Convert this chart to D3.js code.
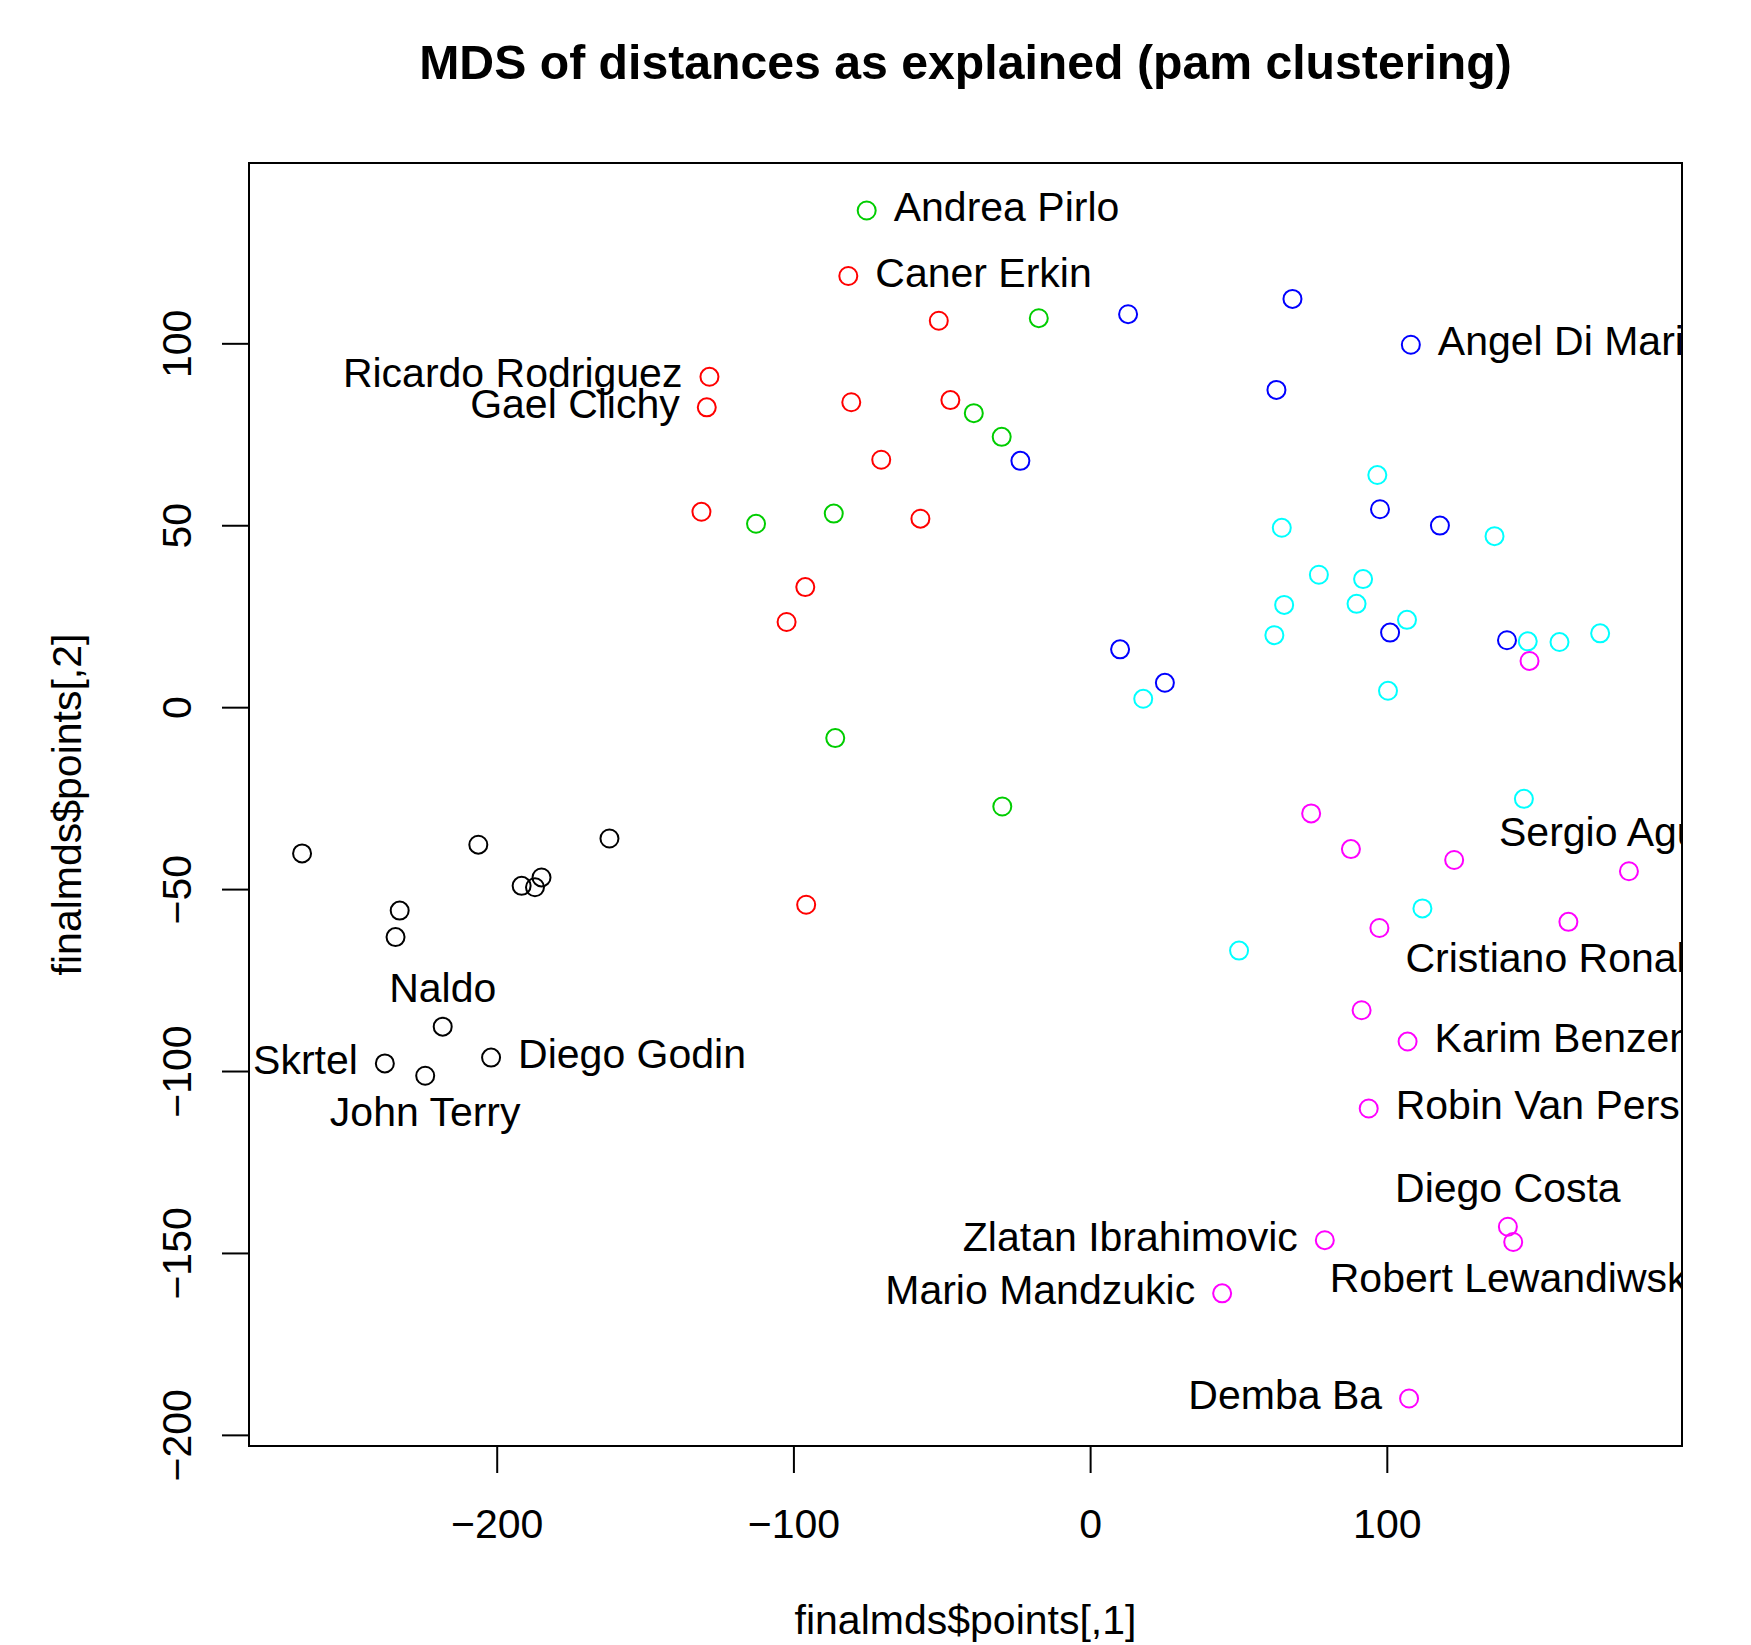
<!DOCTYPE html>
<html>
<head>
<meta charset="utf-8">
<script src="https://cdn.jsdelivr.net/npm/d3@7/dist/d3.min.js"></script>
<style>
  body { margin: 0; background: #fff; }
  text { font-family: "Liberation Sans", Arial, Helvetica, sans-serif; fill: #000; }
  .tick line, .domain { stroke: #000; stroke-width: 2; }
</style>
</head>
<body>
<div id="mdsPlot"></div>
<script>
// finalmds$points, one x/y pair of arrays per pam cluster
// (labelled players first in each cluster)
const c1x = [-218.2, -237.7, -224.1, -201.9, -265.6, -206.2, -162.0, -184.9, -191.6, -187.1, -232.7, -234.1];
const c1y = [-87.8, -97.9, -101.3, -96.3, -40.2, -37.8, -36.1, -46.8, -49.1, -49.5, -55.9, -63.2];

const c2x = [-81.5, -128.3, -129.2, -51.0, -80.5, -47.1, -70.4, -131.0, -57.2, -96.0, -102.3, -95.7];
const c2y = [118.5, 90.8, 82.4, 106.2, 83.8, 84.4, 68.0, 53.7, 51.8, 33.0, 23.4, -54.3];

const c3x = [-75.3, -17.3, -39.2, -29.8, -112.6, -86.4, -85.9, -29.6];
const c3y = [136.5, 106.9, 80.8, 74.3, 50.4, 53.2, -8.5, -27.3];

const c4x = [108.1, 12.8, 68.2, 62.8, -23.5, 97.7, 117.9, 101.1, 140.5, 10.1, 25.2];
const c4y = [99.6, 108.0, 112.2, 87.2, 67.7, 54.4, 49.9, 20.5, 18.4, 15.9, 6.7];

const c5x = [17.9, 96.8, 136.3, 64.6, 77.1, 92.0, 65.4, 89.8, 106.8, 62.1, 147.5, 158.2, 171.9, 100.4, 146.2, 112.0, 50.2];
const c5y = [2.3, 63.8, 47.0, 49.3, 36.4, 35.2, 28.1, 28.4, 24.0, 19.8, 18.1, 17.9, 20.3, 4.5, -25.2, -55.3, -66.9];

const c6x = [181.6, 161.2, 107.0, 93.9, 140.8, 142.6, 79.1, 44.5, 107.5, 148.1, 74.5, 87.9, 122.7, 97.5, 91.5];
const c6y = [-45.1, -59.0, -91.9, -110.3, -142.8, -147.0, -146.5, -161.1, -190.0, 12.7, -29.2, -39.0, -42.0, -60.7, -83.3];

// labelled players: name, cluster (1-6), index in that cluster, R text() pos (1 below, 2 left, 3 above, 4 right)
const labelNames = ["Naldo", "Skrtel", "John Terry", "Diego Godin",
  "Caner Erkin", "Ricardo Rodriguez", "Gael Clichy", "Andrea Pirlo", "Angel Di Maria",
  "Sergio Aguero", "Cristiano Ronaldo", "Karim Benzema", "Robin Van Persie", "Diego Costa",
  "Robert Lewandiwski", "Zlatan Ibrahimovic", "Mario Mandzukic", "Demba Ba"];
const labelCluster = [1, 1, 1, 1, 2, 2, 2, 3, 4, 6, 6, 6, 6, 6, 6, 6, 6, 6];
const labelIndex = [0, 1, 2, 3, 0, 1, 2, 0, 0, 0, 1, 2, 3, 4, 5, 6, 7, 8];
const labelSide = [3, 2, 1, 4, 4, 2, 2, 4, 4, 3, 1, 4, 4, 3, 1, 2, 2, 2];

const xTicks = [-200, -100, 0, 100];
const yTicks = [-200, -150, -100, -50, 0, 50, 100];

// R palette 1:6
const clusterColors = ["#000000", "#FF0000", "#00CD00", "#0000FF", "#00FFFF", "#FF00FF"];

// set the dimensions and margins of the graph
const W = 1751, H = 1645;
const margin = {top: 163, right: 69, bottom: 199, left: 249};
const width = W - margin.left - margin.right;
const height = H - margin.top - margin.bottom;
const fs = 41;

const svg = d3.select("#mdsPlot")
  .append("svg")
    .attr("width", W)
    .attr("height", H)
  .append("g")
    .attr("transform", `translate(${margin.left}, ${margin.top})`);

// gather points
const clusters = [[c1x, c1y], [c2x, c2y], [c3x, c3y], [c4x, c4y], [c5x, c5y], [c6x, c6y]];
const points = clusters.flatMap((c, k) => c[0].map((x, i) => ({x: x, y: c[1][i], cl: k})));

// R pads the data range by 4%
const pad = ext => { const d = (ext[1] - ext[0]) * 0.04; return [ext[0] - d, ext[1] + d]; };

const xScale = d3.scaleLinear()
  .domain(pad(d3.extent(points, d => d.x)))
  .range([0, width]);
const yScale = d3.scaleLinear()
  .domain(pad(d3.extent(points, d => d.y)))
  .range([height, 0]);

// X axis
const xAxis = svg.append("g")
  .attr("transform", `translate(0,${height})`)
  .call(d3.axisBottom(xScale).tickValues(xTicks).tickSize(27).tickPadding(36)
    .tickFormat(d => d < 0 ? "\u2212" + Math.abs(d) : d));
xAxis.select(".domain").remove();
xAxis.selectAll("text").style("font-size", fs + "px");

// Y axis, labels parallel to the axis
const yAxis = svg.append("g")
  .call(d3.axisLeft(yScale).tickValues(yTicks).tickSize(27)
    .tickFormat(d => d < 0 ? "\u2212" + Math.abs(d) : d));
yAxis.select(".domain").remove();
yAxis.selectAll("text")
  .attr("transform", "rotate(-90)")
  .attr("x", 0)
  .attr("y", -58)
  .attr("dy", null)
  .attr("text-anchor", "middle")
  .style("font-size", fs + "px");

// clip to plot region
svg.append("clipPath")
    .attr("id", "plotClip")
  .append("rect")
    .attr("width", width)
    .attr("height", height);

const plot = svg.append("g").attr("clip-path", "url(#plotClip)");

// points
plot.selectAll("circle")
  .data(points)
  .join("circle")
    .attr("cx", d => xScale(d.x))
    .attr("cy", d => yScale(d.y))
    .attr("r", 9)
    .attr("fill", "none")
    .attr("stroke", d => clusterColors[d.cl])
    .attr("stroke-width", 2);

// labels
const labels = labelNames.map((n, i) => {
  const c = clusters[labelCluster[i] - 1];
  return {name: n, x: c[0][labelIndex[i]], y: c[1][labelIndex[i]], side: labelSide[i]};
});
plot.selectAll(".lab")
  .data(labels)
  .join("text")
    .attr("class", "lab")
    .style("font-size", fs + "px")
    .attr("x", d => xScale(d.x) + (d.side === 2 ? -27 : d.side === 4 ? 27 : 0))
    .attr("y", d => yScale(d.y) + (d.side === 1 ? 50 : d.side === 3 ? -25 : 10.5))
    .attr("text-anchor", d => d.side === 2 ? "end" : d.side === 4 ? "start" : "middle")
  .text(d => d.name);

// box
svg.append("rect")
  .attr("width", width)
  .attr("height", height)
  .attr("fill", "none")
  .attr("stroke", "#000")
  .attr("stroke-width", 2);

// title and axis titles
svg.append("text")
    .attr("x", width / 2)
    .attr("y", 79 - margin.top)
    .attr("text-anchor", "middle")
    .style("font-size", "48.2px")
    .style("font-weight", "bold")
  .text("MDS of distances as explained (pam clustering)");

svg.append("text")
    .attr("x", width / 2)
    .attr("y", 1634 - margin.top)
    .attr("text-anchor", "middle")
    .style("font-size", fs + "px")
  .text("finalmds$points[,1]");

svg.append("text")
    .attr("transform", `translate(${81 - margin.left},${height / 2}) rotate(-90)`)
    .attr("text-anchor", "middle")
    .style("font-size", fs + "px")
  .text("finalmds$points[,2]");
</script>
</body>
</html>
